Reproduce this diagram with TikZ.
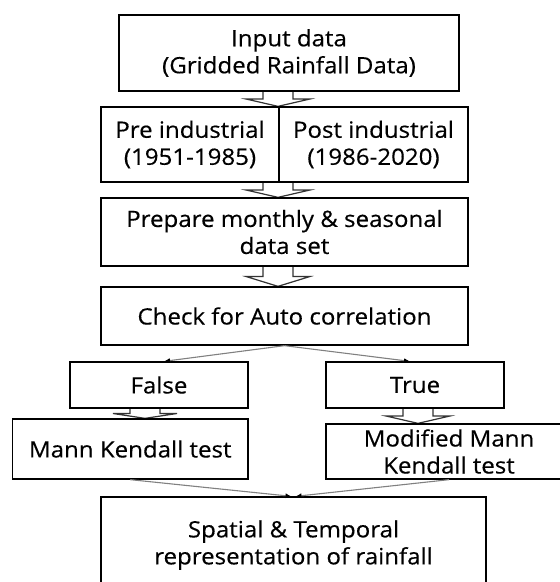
\documentclass[tikz,border=0pt]{standalone}
\usepackage{fontspec}
\setmainfont{Open Sans}[FakeStretch=1.07,FakeBold=0.4]
\usetikzlibrary{arrows.meta,calc}
\pgfdeclarelayer{bg}
\pgfsetlayers{bg,main}
\newcommand\blockar[3]{%
 \begin{pgfonlayer}{bg}
 \draw[blockarr] let \p1=(#1.south), \p2=(#2.north), \n1={(\y1+\y2)/2} in
  ({(#3-15)*1pt},\y1) -- ({(#3-15)*1pt},{\n1*1pt}) -- ({(#3-32)*1pt},{\n1*1pt}) -- ({#3*1pt},\y2) -- ({(#3+32)*1pt},{\n1*1pt}) -- ({(#3+15)*1pt},{\n1*1pt}) -- ({(#3+15)*1pt},\y1);
 \end{pgfonlayer}}
\begin{document}
\begin{tikzpicture}[x=1pt,y=-1pt,
  box/.style={draw=black, line width=1.3pt, align=center, inner sep=0pt, text=black, font=\fontsize{22.5}{27}\selectfont},
  blockarr/.style={draw=black!80, line width=1.2pt, fill=white, line join=miter},
  thinarr/.style={draw=black!50, line width=1.1pt, -{Latex[length=6pt,width=5pt,color=black]}}]
\useasboundingbox (0,0) rectangle (560,582);
\clip (0,0) rectangle (560,582);
\node[box, minimum width=340pt, minimum height=76pt] (b1) at (289,53) {Input data\\(Gridded Rainfall Data)};
\node[box, minimum width=178pt, minimum height=75pt] (pre) at (190,144.5) {Pre industrial\\(1951-1985)};
\node[box, minimum width=189pt, minimum height=75pt] (post) at (373.5,144.5) {Post industrial\\(1986-2020)};
\node[box, minimum width=367pt, minimum height=68pt] (b3) at (284.5,232) {Prepare monthly \& seasonal\\data set};
\node[box, minimum width=367pt, minimum height=58pt] (b4) at (284.5,316) {Check for Auto correlation};
\node[box, minimum width=178pt, minimum height=46pt] (fls) at (159,385) {False};
\node[box, minimum width=178pt, minimum height=46pt] (tru) at (415,385) {True};
\node[box, minimum width=235.5pt, minimum height=60pt] (mk) at (130.25,449) {Mann Kendall test};
\node[box, minimum width=246pt, minimum height=55pt] (mmk) at (449,451.5) {Modified Mann\\Kendall test};
\node[box, minimum width=385pt, minimum height=96pt] (fin) at (293.5,545) {Spatial \& Temporal\\representation of rainfall};
\blockar{b1}{pre}{278}
\blockar{pre}{b3}{278}
\blockar{b3}{b4}{278}
\blockar{fls}{mk}{145}
\blockar{tru}{mmk}{418}
\draw[thinarr] (b4.south) -- ($(fls.north)+(5,0)$);
\draw[thinarr] (b4.south) -- ($(tru.north)+(-5,0)$);
\draw[thinarr] (mk.south) -- ($(fin.north)+(-2,0)$);
\draw[thinarr] (mmk.south) -- ($(fin.north)+(2,0)$);
\end{tikzpicture}
\end{document}
